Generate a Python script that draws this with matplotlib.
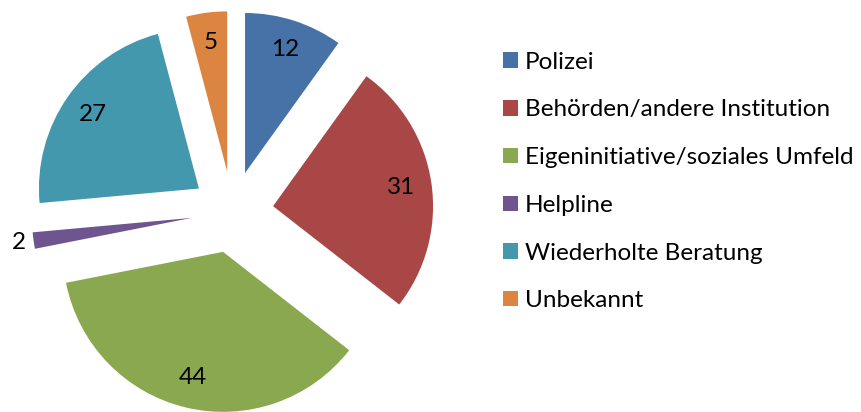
import matplotlib.pyplot as plt
import numpy as np

plt.rcParams['font.family'] = ['Lato', 'DejaVu Sans']

labels = ['Polizei', 'Behörden/andere Institution', 'Eigeninitiative/soziales Umfeld',
          'Helpline', 'Wiederholte Beratung', 'Unbekannt']
values = [12, 31, 44, 2, 27, 5]
colors = ['#4672A8', '#A94747', '#8AA84F', '#6F5590', '#4398AE', '#DB8540']

fig = plt.figure(figsize=(8.61, 4.12), dpi=100)
ax = fig.add_axes([0, 0, 1, 1])

wedges, _ = ax.pie(values, colors=colors, startangle=90, counterclock=False,
                   explode=[0.256] * len(values), radius=1)

# data labels, the tiny slice gets its label outside
for w, v in zip(wedges, values):
    mid = np.deg2rad((w.theta1 + w.theta2) / 2)
    d = 1.09 if v < 3 else 0.81
    cx, cy = w.center
    ax.text(cx + d * np.cos(mid), cy + d * np.sin(mid), str(v),
            ha='center', va='center', fontsize=17.5)

# 1 data unit = 160 px, pie centre at (232.5, 200) px
ax.set_aspect('auto')
ax.set_xlim(-232.5 / 160, (861 - 232.5) / 160)
ax.set_ylim(-200 / 160, 212 / 160)
ax.axis('off')

leg = ax.legend(wedges, labels, loc='center left', frameon=False,
                bbox_to_anchor=(503 / 861, 230.5 / 412), bbox_transform=fig.transFigure,
                fontsize=17.5, handlelength=0.6, handleheight=0.6,
                handletextpad=0.3, labelspacing=1.1, borderpad=0, borderaxespad=0)

fig.savefig('out.png', dpi=100)
